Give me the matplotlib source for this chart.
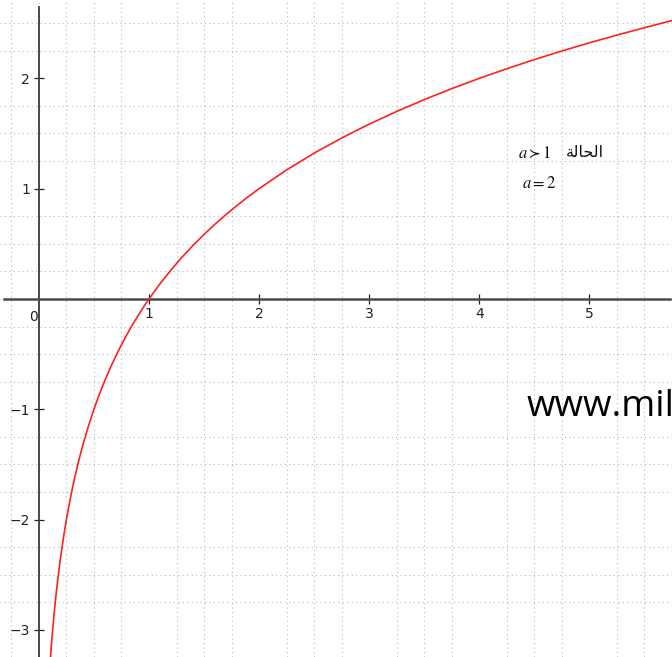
import matplotlib
matplotlib.use("Agg")
import matplotlib.pyplot as plt
import numpy as np

plt.rcParams['mathtext.fontset'] = 'stix'

# Curve values (y = log base 2 of x)
x_vals = [0.105, 0.115, 0.125, 0.137, 0.15, 0.162, 0.175, 0.19, 0.2, 0.225,
          0.25, 0.275, 0.3, 0.325, 0.35, 0.375, 0.4, 0.45, 0.5, 0.55, 0.6,
          0.65, 0.7, 0.75, 0.8, 0.85, 0.9, 0.95, 1.0, 1.1, 1.2, 1.3, 1.4, 1.5,
          1.6, 1.7, 1.8, 1.9, 2.0, 2.25, 2.5, 2.75, 3.0, 3.25, 3.5, 3.75, 4.0,
          4.25, 4.5, 4.75, 5.0, 5.25, 5.5, 5.75]
y_vals = [-3.252, -3.120, -3.0, -2.868, -2.737, -2.626, -2.515, -2.396, -2.322,
          -2.152, -2.0, -1.862, -1.737, -1.621, -1.515, -1.415, -1.322, -1.152,
          -1.0, -0.862, -0.737, -0.621, -0.515, -0.415, -0.322, -0.234, -0.152,
          -0.074, 0.0, 0.138, 0.263, 0.379, 0.485, 0.585, 0.678, 0.766, 0.848,
          0.926, 1.0, 1.170, 1.322, 1.459, 1.585, 1.700, 1.807, 1.907, 2.0,
          2.087, 2.170, 2.248, 2.322, 2.392, 2.459, 2.524]

x_ticks = [1, 2, 3, 4, 5]
x_tick_labels = ["1", "2", "3", "4", "5"]
y_ticks = [-3, -2, -1, 1, 2]
y_tick_labels = ["\u22123", "\u22122", "\u22121", "1", "2"]

# Arabic "الحالة" in presentation forms (visual order) since matplotlib has no shaping
arabic_label = "\uFE94\uFEDF\uFE8E\uFEA4\uFEDF\uFE8D"

fig = plt.figure(figsize=(6.72, 6.57), dpi=100)
ax = fig.add_axes([0, 0, 1, 1])
ax.set_xlim(-0.353, 5.734)
ax.set_ylim(-3.245, 2.71)

ax.spines['top'].set_visible(False)
ax.spines['right'].set_visible(False)
ax.spines['left'].set_position(('data', 0))
ax.spines['bottom'].set_position(('data', 0))
ax.spines['left'].set_bounds(-3.245, 2.645)
ax.spines['bottom'].set_bounds(-0.32, 5.734)
ax.spines['left'].set_color('#3a3a3a')
ax.spines['bottom'].set_color('#4a4a4a')
ax.spines['left'].set_linewidth(1.3)
ax.spines['bottom'].set_linewidth(1.8)

# grid every 0.25 units
ax.set_xticks(np.arange(-0.25, 5.8, 0.25), minor=True)
ax.set_yticks(np.arange(-3.0, 2.75, 0.25), minor=True)
ax.grid(which='minor', color='#b8b8b8', linestyle=(0, (1, 3)), linewidth=0.8)
ax.tick_params(which='minor', length=0)

ax.set_xticks(x_ticks)
ax.set_xticklabels(x_tick_labels)
ax.set_yticks(y_ticks)
ax.set_yticklabels(y_tick_labels)
ax.tick_params(which='major', direction='inout', length=7, width=0.9,
               color='#222222', labelsize=10, labelcolor='#222222', pad=2)
ax.tick_params(axis='y', pad=3)
ax.set_axisbelow(True)

ax.text(-0.05, -0.16, "0", fontsize=10, color='#222222', ha='center', va='center')

ax.plot(x_vals, y_vals, color='#ff2020', linewidth=1.2, zorder=3)

ax.text(4.35, 1.33, r"$a \succ 1$", fontsize=12, ha='left', va='center',
        color='#111111')
ax.text(4.79, 1.33, arabic_label, fontsize=11.5, family=['DejaVu Sans'], ha='left',
        va='center', color='#111111')
ax.text(4.39, 1.05, r"$a = 2$", fontsize=12, ha='left', va='center',
        color='#111111')

ax.text(4.43, -0.98, "www.mil", fontsize=26.5, family=['Open Sans', 'DejaVu Sans'],
        ha='left', va='center', color='#000000')

fig.savefig("out.png", dpi=100)
